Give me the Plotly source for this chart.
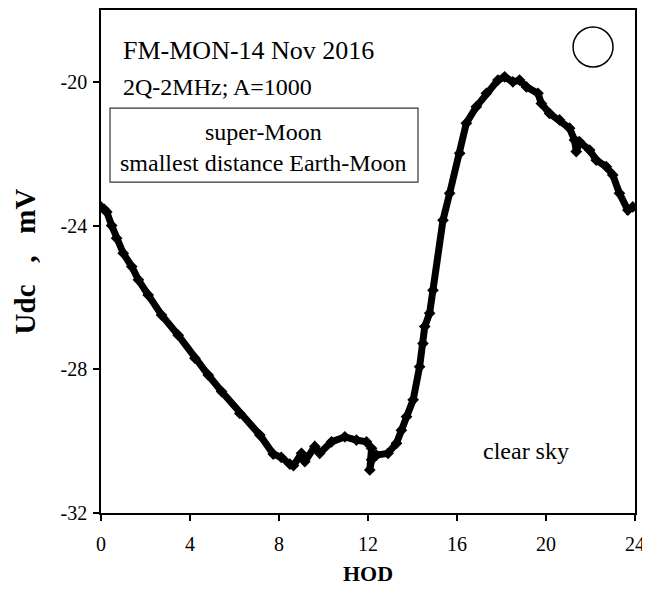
import plotly.graph_objects as go

hod = [0.0, 0.15, 0.26, 0.48, 0.70, 1.0, 1.38, 1.68, 2.12, 2.72, 3.47, 4.22, 4.82, 5.42,
       6.24, 7.14, 7.74, 8.1, 8.49, 8.65, 9.01, 9.16, 9.61, 9.83, 10.36, 10.96, 11.48,
       11.93, 12.16, 12.08, 12.16, 12.38, 12.9, 13.28, 13.5, 13.73, 14.03, 14.32, 14.47,
       14.55, 14.77, 14.92, 15.37, 15.67, 16.12, 16.42, 16.87, 17.32, 17.84, 18.14, 18.51,
       18.81, 19.12, 19.64, 19.79, 20.16, 20.61, 21.06, 21.28, 21.36, 21.51, 21.96, 22.26,
       22.71, 23.0, 23.3, 23.68, 23.9]
udc = [-23.48, -23.55, -23.62, -24.0, -24.35, -24.77, -25.14, -25.51, -25.93, -26.49,
       -27.05, -27.69, -28.16, -28.62, -29.23, -29.83, -30.36, -30.45, -30.64, -30.68,
       -30.34, -30.57, -30.15, -30.34, -30.02, -29.88, -29.97, -30.02, -30.2, -30.8,
       -30.52, -30.39, -30.34, -30.06, -29.7, -29.32, -28.85, -27.93, -27.28, -26.81,
       -26.44, -25.8, -23.85, -23.1, -21.99, -21.15, -20.69, -20.32, -19.95, -19.86,
       -20.0, -19.95, -20.14, -20.32, -20.6, -20.88, -21.06, -21.29, -21.62, -21.94,
       -21.67, -21.9, -22.18, -22.36, -22.59, -23.1, -23.57, -23.48]

x_ticks = [0, 4, 8, 12, 16, 20, 24]
y_ticks = [-32, -28, -24, -20]

FONT = "Liberation Serif"

fig = go.Figure()
fig.add_trace(go.Scatter(
    x=hod, y=udc, mode="lines+markers",
    line=dict(color="black", width=7),
    marker=dict(symbol="diamond", size=9, color="black"),
    showlegend=False, hoverinfo="skip",
))

# the page body adds an 8px margin, so the figure is sized to fit inside it
fig.update_layout(
    width=642, height=581,
    margin=dict(l=93, r=15, t=2, b=76),
    paper_bgcolor="white", plot_bgcolor="white",
    font=dict(family=FONT, size=20, color="black"),
    xaxis=dict(
        range=[0, 24], tickvals=x_ticks, ticktext=[str(v) for v in x_ticks],
        showgrid=False, zeroline=False, showline=True, linecolor="black", linewidth=1.5,
        mirror=True, ticks="outside", ticklen=6, tickwidth=1.5, tickcolor="black",
        tickfont=dict(family=FONT, size=20), automargin=False, ticklabelstandoff=6,
        title=dict(text="<b>HOD</b>", font=dict(family=FONT, size=22), standoff=12),
    ),
    yaxis=dict(
        range=[-32, -18], tickvals=y_ticks, ticktext=[str(v) for v in y_ticks],
        showgrid=False, zeroline=False, showline=True, linecolor="black", linewidth=1.5,
        mirror=True, ticks="outside", ticklen=6, tickwidth=1.5, tickcolor="black",
        tickfont=dict(family=FONT, size=20), automargin=False, ticklabelstandoff=2,
        title=dict(text="<b>Udc\u00a0\u00a0\u00a0,\u00a0\u00a0\u00a0mV</b>",
                   font=dict(family=FONT, size=29), standoff=16),
    ),
)

fig.add_annotation(text="FM-MON-14 Nov 2016", xref="paper", yref="paper", x=0.0375, y=0.919,
                   xanchor="left", yanchor="middle", showarrow=False,
                   font=dict(family=FONT, size=26, color="black"))
fig.add_annotation(text="2Q-2MHz; A=1000", xref="paper", yref="paper", x=0.0375, y=0.847,
                   xanchor="left", yanchor="middle", showarrow=False,
                   font=dict(family=FONT, size=24, color="black"))
fig.add_annotation(text="super-Moon<br>smallest distance Earth-Moon", xref="paper", yref="paper",
                   x=0.305, y=0.7276, xanchor="center", yanchor="middle", showarrow=False,
                   align="center", font=dict(family=FONT, size=24, color="black"))
fig.add_annotation(text="clear sky", xref="paper", yref="paper", x=0.795, y=0.123,
                   xanchor="center", yanchor="middle", showarrow=False,
                   font=dict(family=FONT, size=24, color="black"))

fig.add_shape(type="rect", xref="paper", yref="paper", x0=0.0169, x1=0.5936, y0=0.658, y1=0.805,
              line=dict(color="#333333", width=1.2), fillcolor="rgba(0,0,0,0)")
fig.add_shape(type="circle", xref="paper", yref="paper", x0=0.884, x1=0.9588, y0=0.8867, y1=0.9662,
              line=dict(color="black", width=1.5), fillcolor="rgba(0,0,0,0)")

fig.write_html("out.html")
